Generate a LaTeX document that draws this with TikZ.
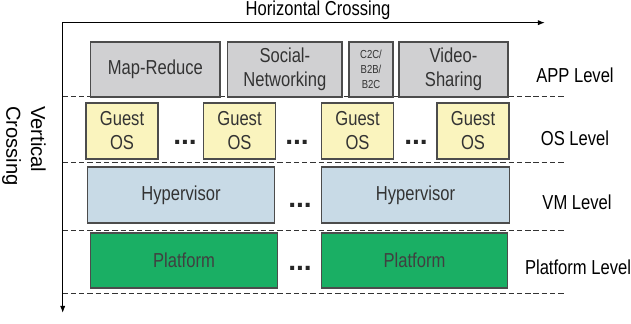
\documentclass[tikz,border=0pt]{standalone}
\usepackage{fontspec}
\setmainfont{Liberation Sans}[FakeStretch=0.82]
\newfontfamily\plainsans{Liberation Sans}
\usepackage{tikz}
\usetikzlibrary{arrows.meta}

\definecolor{appgray}{RGB}{208,208,210}
\definecolor{osyellow}{RGB}{250,244,190}
\definecolor{vmblue}{RGB}{200,218,230}
\definecolor{platgreen}{RGB}{26,175,100}

\begin{document}
\begin{tikzpicture}[>={Latex[length=4pt,width=3pt]}, font=\fontsize{11.5}{13.6}\selectfont,
    box/.style={draw=gray!60!black, line width=0.6pt, align=center, inner sep=0pt, text=black!80},
    appbox/.style={box, fill=appgray, minimum height=1.1cm},
    osbox/.style={box, fill=osyellow, minimum width=1.44cm, minimum height=1.12cm},
    vmbox/.style={box, fill=vmblue, minimum width=3.75cm, minimum height=1.12cm},
    platbox/.style={box, fill=platgreen, minimum width=3.73cm, minimum height=1.1cm, text=black!75},
    ellip/.style={font=\plainsans\bfseries\fontsize{16}{16}\selectfont, inner sep=0pt, text=black!85},
    sep/.style={dash pattern=on 3pt off 1.7pt, line width=0.5pt, black!80}]

        \useasboundingbox (0, 0) rectangle (12.62, 6.48);

        % axes
        \coordinate (origin) at (1.254, 6.026);
        \coordinate (hend) at (10.9, 6.026);
        \coordinate (vend) at (1.254, 0.22);
        \draw[<->, line width=0.7pt] (hend) -- (origin) -- (vend);
        \node (hcross) at (6.36, 6.27) {Horizontal Crossing};
        \node[rotate=-90, align=left, font=\plainsans\fontsize{11.5}{14}\selectfont] (vcross) at (0.48, 3.56) {Vertical\\Crossing};

        % level separators
        \draw[sep] (1.254, 4.55) -- (11.32, 4.55);
        \draw[sep] (1.254, 3.226) -- (11.32, 3.226);
        \draw[sep] (1.254, 1.88) -- (11.32, 1.88);
        \draw[sep] (1.254, 0.62) -- (11.32, 0.62);

        % APP level
        \node[appbox, minimum width=2.586cm] (mapred) at (3.107, 5.09) {Map-Reduce};
        \node[appbox, minimum width=2.286cm] (social) at (5.697, 5.09) {Social-\\Networking};
        \node[appbox, minimum width=0.88cm, font=\fontsize{6.6}{8.5}\selectfont] (ctoc) at (7.42, 5.09) {C2C/\\B2B/\\B2C};
        \node[appbox, minimum width=2.18cm] (video) at (9.07, 5.09) {Video-\\Sharing};

        % OS level
        \node[osbox] (guesta) at (2.44, 3.86) {Guest\\OS};
        \node[osbox] (guestb) at (4.79, 3.86) {Guest\\OS};
        \node[osbox] (guestc) at (7.15, 3.86) {Guest\\OS};
        \node[osbox] (guestd) at (9.46, 3.86) {Guest\\OS};
        \node[ellip] (osdotsa) at (3.7, 3.64) {...};
        \node[ellip] (osdotsb) at (5.94, 3.64) {...};
        \node[ellip] (osdotsc) at (8.32, 3.64) {...};

        % VM level
        \node[vmbox] (hypera) at (3.62, 2.58) {Hypervisor};
        \node[vmbox] (hyperb) at (8.31, 2.58) {Hypervisor};
        \node[ellip] (vmdots) at (6.0, 2.38) {...};

        % Platform level
        \node[platbox] (plata) at (3.68, 1.27) {Platform};
        \node[platbox] (platb) at (8.29, 1.27) {Platform};
        \node[ellip] (platdots) at (6.0, 1.12) {...};

        % level labels
        \node (applevel) at (11.5, 4.98) {APP Level};
        \node (oslevel) at (11.5, 3.72) {OS Level};
        \node (vmlevel) at (11.54, 2.44) {VM Level};
        \node (platlevel) at (11.56, 1.14) {Platform Level};

\end{tikzpicture}
\end{document}
